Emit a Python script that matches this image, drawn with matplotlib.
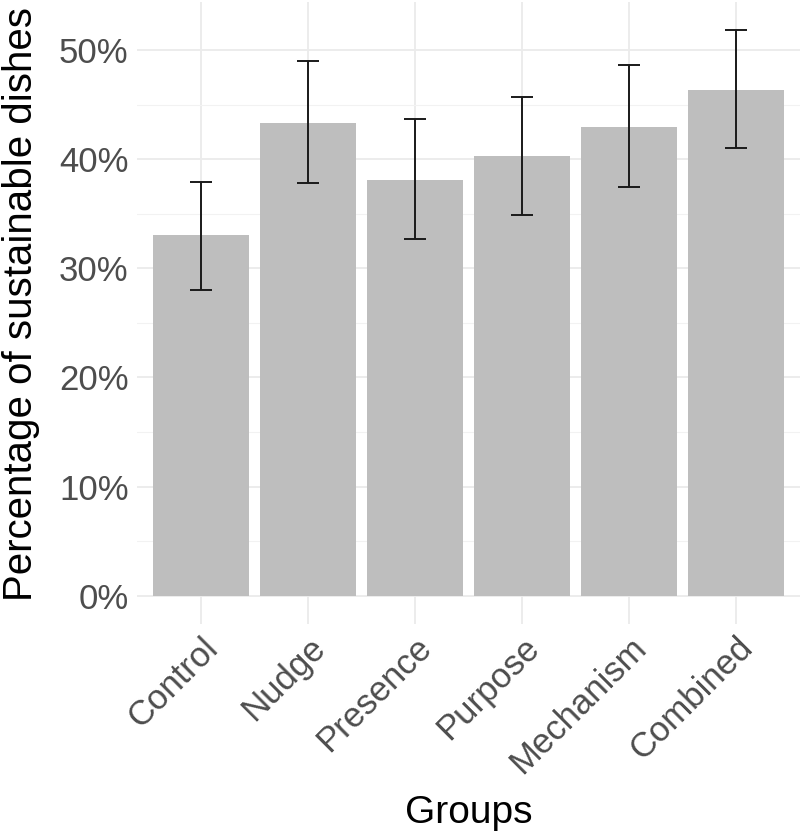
import numpy as np
import matplotlib.pyplot as plt
from matplotlib.ticker import FuncFormatter, MultipleLocator

plt.rcParams['font.family'] = ['Liberation Sans', 'DejaVu Sans']

# datos
groups = ["Control", "Nudge", "Presence", "Purpose", "Mechanism", "Combined"]
share = [33.0, 43.3, 38.1, 40.3, 42.9, 46.3]
ci_low = [28.0, 37.8, 32.7, 34.9, 37.4, 41.0]
ci_high = [37.9, 49.0, 43.7, 45.7, 48.6, 51.8]

share = np.array(share)
err = [share - np.array(ci_low), np.array(ci_high) - share]
x = np.arange(len(groups))

fig = plt.figure(figsize=(8.04, 8.31), dpi=100)
ax = fig.add_axes([137/804, 1 - 624/831, 663/804, 622/831])

ax.bar(x, share, width=0.9, color="#bebebe", zorder=2)
ax.errorbar(x, share, yerr=err, fmt="none", ecolor="#1a1a1a",
            elinewidth=1.4, capsize=8, capthick=1.4, zorder=3)

ax.set_xlim(-0.6, len(groups) - 0.4)
top = max(ci_high) * 1.05
ax.set_ylim(-0.05 * max(ci_high), top)

ax.yaxis.set_major_locator(MultipleLocator(10))
ax.yaxis.set_minor_locator(MultipleLocator(5))
ax.yaxis.set_major_formatter(FuncFormatter(lambda v, p: f"{v:.0f}%"))
ax.set_xticks(x)
ax.set_xticklabels(groups, rotation=45, ha="right", rotation_mode="anchor")

ax.grid(which="major", color="#ebebeb", linewidth=1.3, zorder=0)
ax.grid(which="minor", axis="y", color="#f2f2f2", linewidth=0.8, zorder=0)
ax.set_axisbelow(True)
for s in ax.spines.values():
    s.set_visible(False)
ax.tick_params(which="both", length=0)
ax.tick_params(axis="y", labelsize=25, labelcolor="#4d4d4d", pad=6)
ax.tick_params(axis="x", labelsize=25, labelcolor="#4d4d4d", pad=5)

ax.set_xlabel("Groups", fontsize=28, labelpad=11)
ax.set_ylabel("Percentage of sustainable dishes", fontsize=29, labelpad=14)
ax.yaxis.label.set_y(0.515)

fig.savefig("out.png", dpi=100)
